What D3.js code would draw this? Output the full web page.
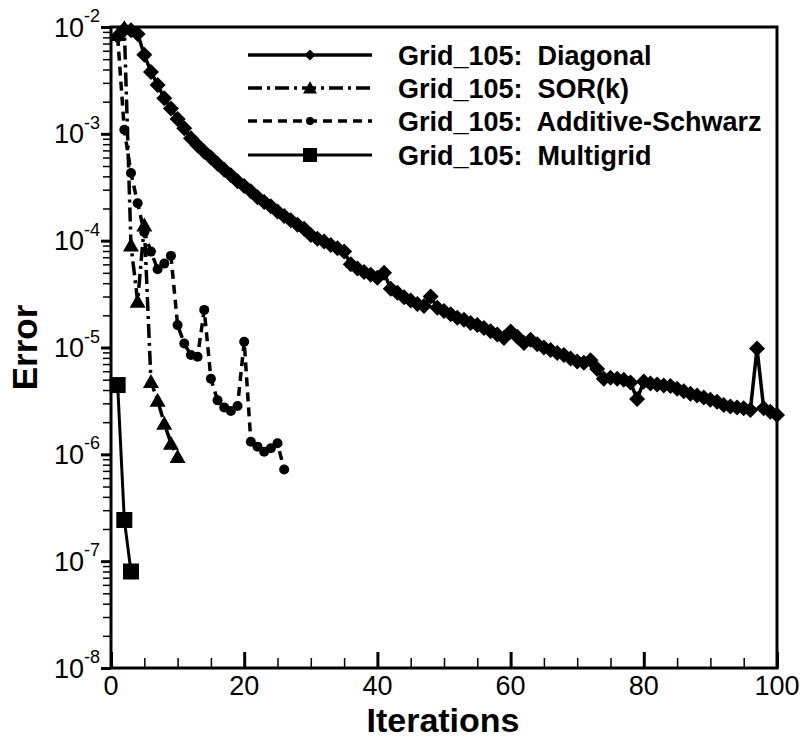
<!DOCTYPE html>
<html>
<head>
<meta charset="utf-8">
<script src="https://cdn.jsdelivr.net/npm/d3@7"></script>
<style>
  html, body { margin: 0; padding: 0; background: #fff; }
  svg { display: block; font-family: "Liberation Sans", Arial, Helvetica, sans-serif; }
</style>
</head>
<body>
<svg id="chart" width="809" height="740"></svg>
<script>
// ---------------- data ----------------
const seriesNames = ["Grid_105:  Diagonal", "Grid_105:  SOR(k)", "Grid_105:  Additive-Schwarz", "Grid_105:  Multigrid"];

// Diagonal: iterations 1..100
const diagonalIter = d3.range(1, 101);
const diagonalErr = [
  8.2e-3, 9.5e-3, 9.3e-3, 8.6e-3, 5.5e-3, 3.8e-3, 2.87e-3, 2.15e-3, 1.73e-3, 1.38e-3,
  1.13e-3, 9.1e-4, 7.8e-4, 6.8e-4, 6.0e-4, 5.25e-4, 4.6e-4, 4.1e-4, 3.6e-4, 3.25e-4,
  2.9e-4, 2.55e-4, 2.3e-4, 2.1e-4, 1.87e-4, 1.7e-4, 1.55e-4, 1.41e-4, 1.29e-4, 1.13e-4,
  1.04e-4, 9.8e-5, 9.1e-5, 8.5e-5, 7.9e-5, 6.0e-5, 5.5e-5, 5.1e-5, 4.8e-5, 4.5e-5,
  5.0e-5, 3.55e-5, 3.25e-5, 2.95e-5, 2.75e-5, 2.55e-5, 2.45e-5, 3.0e-5, 2.35e-5, 2.2e-5,
  2.05e-5, 1.9e-5, 1.82e-5, 1.7e-5, 1.62e-5, 1.52e-5, 1.42e-5, 1.32e-5, 1.23e-5, 1.41e-5,
  1.26e-5, 1.1e-5, 1.18e-5, 1.07e-5, 1.0e-5, 9.5e-6, 8.9e-6, 8.5e-6, 7.9e-6, 7.4e-6,
  7.2e-6, 7.6e-6, 6.3e-6, 5.1e-6, 5.2e-6, 5.1e-6, 5.0e-6, 4.7e-6, 3.3e-6, 4.8e-6,
  4.6e-6, 4.5e-6, 4.4e-6, 4.35e-6, 4.1e-6, 3.9e-6, 3.7e-6, 3.55e-6, 3.4e-6, 3.25e-6,
  3.1e-6, 2.9e-6, 2.8e-6, 2.75e-6, 2.7e-6, 2.6e-6, 9.8e-6, 2.7e-6, 2.5e-6, 2.33e-6
];

// SOR(k): iterations 1..10
const sorIter = [1, 2, 3, 4, 5, 6, 7, 8, 9, 10];
const sorErr = [8.5e-3, 9.8e-3, 9.1e-5, 2.7e-5, 1.4e-4, 4.8e-6, 3.2e-6, 1.95e-6, 1.27e-6, 9.5e-7];

// Additive-Schwarz: iterations 1..26
const asIter = d3.range(1, 27);
const asErr = [
  8.1e-3, 1.09e-3, 4.3e-4, 2.24e-4, 1.2e-4, 7.9e-5, 5.4e-5, 6.1e-5, 7.2e-5, 1.62e-5,
  1.09e-5, 8.5e-6, 8.2e-6, 2.25e-5, 5.1e-6, 3.2e-6, 2.75e-6, 2.55e-6, 2.83e-6, 1.13e-5,
  1.31e-6, 1.18e-6, 1.06e-6, 1.14e-6, 1.27e-6, 7.2e-7
];

// Multigrid: iterations 1..3
const mgIter = [1, 2, 3];
const mgErr = [4.45e-6, 2.43e-7, 8.0e-8];

const xTicks = [0, 20, 40, 60, 80, 100];
const xMinorTicks = [5, 10, 15, 25, 30, 35, 45, 50, 55, 65, 70, 75, 85, 90, 95];
const yTickExps = [-8, -7, -6, -5, -4, -3, -2];

// ---------------- layout ----------------
const svg = d3.select("#chart");
const L = 111, R = 777, T = 27, B = 668;
const x = d3.scaleLinear().domain([0, 100]).range([L, R]);
const y = d3.scaleLog().domain([1e-8, 1e-2]).range([B, T]);

const yMajor = yTickExps.map(e => Math.pow(10, e));
const yMinor = [];
yTickExps.slice(0, -1).forEach(e => { for (let k = 2; k <= 9; k++) yMinor.push(k * Math.pow(10, e)); });

// ---------------- axes ----------------
const gx = svg.append("g").attr("transform", `translate(0,${B})`);
gx.call(d3.axisBottom(x).tickValues(xTicks).tickSizeInner(-16).tickSizeOuter(0).tickFormat(""));
gx.select(".domain").remove();
gx.selectAll(".tick line").attr("stroke", "#000").attr("stroke-width", 3);

const gxm = svg.append("g").attr("transform", `translate(0,${B})`);
gxm.call(d3.axisBottom(x).tickValues(xMinorTicks).tickSizeInner(-10).tickSizeOuter(0).tickFormat(""));
gxm.select(".domain").remove();
gxm.selectAll(".tick line").attr("stroke", "#000").attr("stroke-width", 1.5);

const gy = svg.append("g").attr("transform", `translate(${L},0)`);
gy.call(d3.axisLeft(y).tickValues(yMajor).tickSizeInner(10).tickSizeOuter(0).tickFormat(""));
gy.select(".domain").remove();
gy.selectAll(".tick line").attr("stroke", "#000").attr("stroke-width", 3);

const gym = svg.append("g").attr("transform", `translate(${L},0)`);
gym.call(d3.axisLeft(y).tickValues(yMinor).tickSizeInner(8).tickSizeOuter(0).tickFormat(""));
gym.select(".domain").remove();
gym.selectAll(".tick line").attr("stroke", "#000").attr("stroke-width", 1.5);

// frame
svg.append("rect").attr("x", L).attr("y", T).attr("width", R - L).attr("height", B - T)
  .attr("fill", "none").attr("stroke", "#000").attr("stroke-width", 3);

// tick labels
svg.append("g").selectAll("text").data(xTicks).join("text")
  .attr("x", d => x(d)).attr("y", 695)
  .attr("text-anchor", "middle").attr("font-size", 27).attr("fill", "#000")
  .text(d => d);

const yl = svg.append("g").selectAll("text").data(yTickExps).join("text")
  .attr("x", 100).attr("y", d => y(Math.pow(10, d)) + 9.5)
  .attr("text-anchor", "end").attr("font-size", 27).attr("fill", "#000");
yl.append("tspan").text("10");
yl.append("tspan").attr("font-size", 18).attr("dy", -14.5).text(d => String(d));

// axis titles
svg.append("text").attr("x", (L + R) / 2 - 1).attr("y", 732)
  .attr("text-anchor", "middle").attr("font-size", 34).attr("font-weight", "bold").text("Iterations");
svg.append("text").attr("transform", `translate(37,${(T + B) / 2}) rotate(-90)`)
  .attr("text-anchor", "middle").attr("font-size", 35).attr("font-weight", "bold").text("Error");

// ---------------- series ----------------
const styles = [
  { dash: null, width: 3.5, marker: "diamond", size: 16 },
  { dash: "14,5,3,5", width: 3.5, marker: "triangle", size: 16 },
  { dash: "9,6", width: 3.5, marker: "circle", size: 10 },
  { dash: null, width: 3, marker: "square", size: 16 }
];

function markerPath(type, s) {
  const h = s / 2;
  if (type === "diamond") return `M0,${-h}L${h},0L0,${h}L${-h},0Z`;
  if (type === "triangle") return `M0,${-h * 0.95}L${h},${h * 0.8}L${-h},${h * 0.8}Z`;
  if (type === "square") return `M${-h},${-h}H${h}V${h}H${-h}Z`;
  return d3.symbol(d3.symbolCircle, Math.PI * h * h)();
}

const series = [
  { xs: diagonalIter, ys: diagonalErr },
  { xs: sorIter, ys: sorErr },
  { xs: asIter, ys: asErr },
  { xs: mgIter, ys: mgErr }
];

const plot = svg.append("g");
series.forEach((s, i) => {
  const st = styles[i];
  const pts = s.xs.map((v, j) => [v, s.ys[j]]);
  const line = d3.line().x(d => x(d[0])).y(d => y(d[1]));
  plot.append("path").attr("d", line(pts)).attr("fill", "none")
    .attr("stroke", "#000").attr("stroke-width", st.width)
    .attr("stroke-dasharray", st.dash).attr("stroke-linejoin", "miter");
  plot.append("g").selectAll("path").data(pts).join("path")
    .attr("transform", d => `translate(${x(d[0])},${y(d[1])})`)
    .attr("d", markerPath(st.marker, st.size)).attr("fill", "#000");
});

// ---------------- legend ----------------
const legRows = [55, 88, 121, 155];
const lg = svg.append("g");
seriesNames.forEach((name, i) => {
  const st = styles[i];
  const yy = legRows[i];
  lg.append("line").attr("x1", 248).attr("x2", 372).attr("y1", yy).attr("y2", yy)
    .attr("stroke", "#000").attr("stroke-width", st.width).attr("stroke-dasharray", st.dash);
  const ms = st.marker === "square" ? 14 : (st.marker === "circle" ? 8 : (st.marker === "triangle" ? 14 : 11));
  lg.append("path").attr("transform", `translate(310,${yy})`).attr("d", markerPath(st.marker, ms)).attr("fill", "#000");
  lg.append("text").attr("x", 398).attr("y", yy + 9.5).attr("font-size", 27).attr("font-weight", "bold")
    .attr("xml:space", "preserve").style("white-space", "pre").text(name);
});
</script>
</body>
</html>
